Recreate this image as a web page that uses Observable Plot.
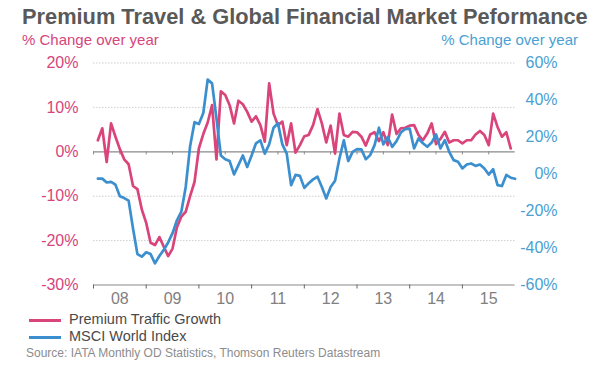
<!DOCTYPE html>
<html><head><meta charset="utf-8">
<script src="https://cdn.jsdelivr.net/npm/d3@7"></script>
<script src="https://cdn.jsdelivr.net/npm/@observablehq/plot@0.6"></script>
<style>
body{margin:0;background:#fff;font-family:"Liberation Sans",Arial,sans-serif;}
#wrap{position:relative;width:600px;height:368px;overflow:hidden;background:#fff}
.title{position:absolute;left:22px;top:4px;font-size:21.8px;line-height:26px;font-weight:bold;color:#595959;white-space:nowrap}
.sub{position:absolute;top:31px;font-size:15px;line-height:18px;white-space:nowrap}
#chart{position:absolute;left:0;top:52px}
.leg{position:absolute;left:69px;font-size:14.5px;line-height:18px;color:#4a4a4a;white-space:nowrap}
.sw{position:absolute;left:29px;width:32px;height:3px}
.src{position:absolute;left:26px;top:346px;font-size:12px;line-height:15px;color:#8c8c8c;white-space:nowrap}
</style></head>
<body>
<div id="wrap">
  <div class="title">Premium Travel &amp; Global Financial Market Peformance</div>
  <div class="sub" style="left:22px;color:#d6457c">% Change over year</div>
  <div class="sub" style="right:22px;color:#4a9fd3">% Change over year</div>
  <div id="chart"></div>
  <div class="sw" style="top:319px;background:#d9457b"></div>
  <div class="leg" style="top:310px">Premium Traffic Growth</div>
  <div class="sw" style="top:336px;background:#3c8fcf"></div>
  <div class="leg" style="top:327px">MSCI World Index</div>
  <div class="src">Source: IATA Monthly OD Statistics, Thomson Reuters Datastream</div>
</div>
<script>
// Monthly observations, Jan 2008 onwards
const premiumTraffic = [
  2.6, 5.3, -2.3, 6.4, 3.4, 0.6, -1.7, -2.8, -7.7, -8.4, -13, -16,
  -20.5, -21, -19.2, -21.4, -23.5, -21.8, -17, -14.6, -13.5, -10, -6.8, 0.8,
  4, 6.6, 10.5, -1.7, 13.6, 12.8, 10.5, 6.4, 11.5, 10.7, 9, 6.8,
  8, 6, 2.3, 15.4, 8.6, 6, 6.8, 1.5, 6.4, -0.2, 1.5, 3.5,
  3.8, 6, 9.6, 6.4, 2.1, 5.9, -0.4, 8.6, 3.8, 3.4, 4.5, 4.4,
  3.4, 1.4, 3.9, 4.4, 2.4, 4.4, 1.5, 8.4, 4, 5.3, 5.4, 5.9,
  6, 3.8, 2.6, 4.1, 6.4, 1.7, 2.9, 4.5, 2.1, 2.6, 2.6, 1.9,
  2.6, 2.6, 3.9, 4.7, 3.8, 1.5, 8.6, 5.6, 3.4, 4.4, 0.75
];
const msciWorld = [
  -2.5, -2.5, -4.6, -4.3, -5.8, -12, -13, -14.4, -29.5, -43.3, -44.7, -42.3,
  -43.3, -48.3, -44.3, -41, -37, -32, -25, -20.4, -7, 15, 28, 27,
  33, 51, 49, 30, 10, 8, 7, -0.2, 4.8, 10, 3.8, 10,
  16.6, 18.2, 11, 16, 25, 27.4, 16, 11, -6, -0.5, -1, -7.5,
  -5, -2.9, -1.5, -7, -13.2, -7, -3.6, 8.4, 18.2, 7, 12, 13.4,
  13.3, 8, 10.2, 15.6, 25, 16, 20, 14.7, 17.8, 22.5, 24.3, 24.5,
  13.8, 19.2, 16.6, 14.7, 17, 21.4, 13.8, 18.3, 12, 7.5, 6.6, 3,
  5.1, 5.7, 4.4, 5.1, 3, -0.3, 2.6, -6, -6.5, -0.5, -2, -2.6
];
const monthTimes = d3.range(msciWorld.length).map(i => 2008 + (i + 1) / 12);
const years = [2008, 2009, 2010, 2011, 2012, 2013, 2014, 2015];
const yearLabels = ["08", "09", "10", "11", "12", "13", "14", "15"];
const halfYears = d3.range(2008, 2016, 0.5);
const leftTicks = [20, 10, 0, -10, -20, -30];
const gridTicks = [20, 10, -10, -20];
const rightTicks = [60, 40, 20, 0, -20, -40, -60];

const pink = "#d9457b", blue = "#3c8fcf";
const toLeft = w => w * 5 / 12 - 5; // right axis (-60..60) onto left axis (-30..20)

const chart = Plot.plot({
  width: 600, height: 258,
  marginTop: 10.5, marginBottom: 25.5, marginLeft: 93, marginRight: 85.4,
  x: {domain: [2008, 2016], axis: null},
  y: {domain: [-30, 20], axis: null},
  style: {fontFamily: "'Liberation Sans', Arial, sans-serif", background: "transparent", overflow: "visible"},
  marks: [
    Plot.ruleY(gridTicks, {stroke: "#cfcfcf", strokeDasharray: "1.5,1.5", strokeWidth: 1}),
    Plot.ruleY([0], {stroke: "#8a8a8a", strokeWidth: 1.2}),
    Plot.ruleX(halfYears, {y1: 0, y2: -0.7, stroke: "#8a8a8a", strokeWidth: 1}),
    Plot.ruleY([-30], {stroke: "#8a8a8a", strokeWidth: 1.2}),
    Plot.ruleX(years, {y1: -30, y2: -30.9, stroke: "#666", strokeWidth: 1}),
    Plot.text(yearLabels, {x: (d, i) => years[i] + 0.5, y: -30, dy: 14, text: d => d, fill: "#808080", fontSize: 16}),
    Plot.text(leftTicks, {frameAnchor: "left", y: d => d, text: d => `${d}%`, textAnchor: "end", dx: -15, fill: "#d6457c", fontSize: 16}),
    Plot.text(rightTicks, {frameAnchor: "right", y: d => toLeft(d), text: d => `${d}%`, textAnchor: "end", dx: 42.5, fill: "#4a9fd3", fontSize: 16}),
    Plot.line(premiumTraffic, {x: (d, i) => monthTimes[i], y: d => d, stroke: pink, strokeWidth: 2.7, curve: "linear"}),
    Plot.line(msciWorld, {x: (d, i) => monthTimes[i], y: d => toLeft(d), stroke: blue, strokeWidth: 2.7, curve: "linear"})
  ]
});
document.getElementById("chart").appendChild(chart);
</script>
</body></html>
